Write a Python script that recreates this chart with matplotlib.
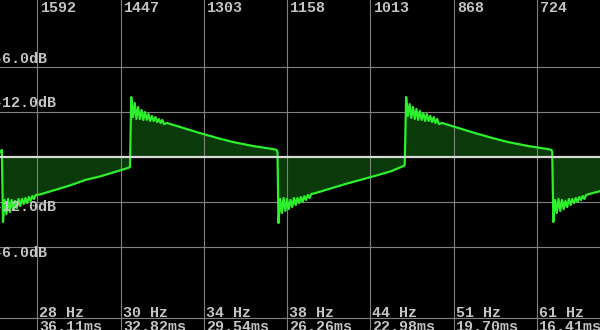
import numpy as np
import matplotlib
matplotlib.use("Agg")
import matplotlib.pyplot as plt

# ---- axis annotations ----
# x axis: lag in samples (44.1 kHz), drawn decreasing to the right
tick_lags = [1592, 1447, 1303, 1158, 1013, 868, 724]
tick_hz = ["28 Hz", "30 Hz", "34 Hz", "38 Hz", "44 Hz", "51 Hz", "61 Hz"]
tick_ms = ["36.11ms", "32.82ms", "29.54ms", "26.26ms", "22.98ms", "19.70ms", "16.41ms"]
# y axis: linear amplitude (1.0 = 0 dB)
db_levels = [0.5, 0.25, -0.25, -0.5]
db_labels = ["-6.0dB", "-12.0dB", "-12.0dB", "-6.0dB"]
frame_level = -0.894

# ---- waveform ----
lead_lag = [1657, 1654]
lead_amp = [0.028, 0.039]

ring_step = 3
ring1_start = 1652
ring1_amp = [-0.361, -0.239, -0.317, -0.233, -0.306, -0.239, -0.294, -0.244, -0.283, -0.233,
             -0.272, -0.233, -0.261, -0.228, -0.256, -0.222, -0.244, -0.217, -0.233, -0.211]
ramp1_lag = [1587.6, 1561.6, 1535.5, 1509.4, 1483.3, 1457.2, 1434.6, 1431.2]
ramp1_amp = [-0.208, -0.183, -0.158, -0.128, -0.108, -0.083, -0.061, -0.056]

ring2_start = 1429
ring2_amp = [0.333, 0.222, 0.300, 0.211, 0.278, 0.211, 0.261, 0.206, 0.250, 0.206,
             0.239, 0.200, 0.228, 0.200, 0.222, 0.194, 0.211, 0.189, 0.206, 0.183]
ramp2_lag = [1366.8, 1344.2, 1309.6, 1279.9, 1252.0, 1217.3, 1182.5, 1176.4, 1174.7]
ramp2_amp = [0.189, 0.167, 0.133, 0.106, 0.083, 0.061, 0.044, 0.039, 0.028]

ring3_start = 1173
ring3_amp = [-0.367, -0.233, -0.311, -0.228, -0.300, -0.233, -0.289, -0.239, -0.278, -0.228,
             -0.267, -0.228, -0.256, -0.222, -0.250, -0.217, -0.239, -0.211, -0.228, -0.206]
ramp3_lag = [1108.4, 1082.4, 1056.3, 1030.2, 1004.1, 978.0, 955.4, 953.5]
ramp3_amp = [-0.200, -0.175, -0.150, -0.127, -0.104, -0.080, -0.050, -0.045]

ring4_start = 951
ring4_amp = [0.333, 0.228, 0.294, 0.217, 0.278, 0.211, 0.267, 0.206, 0.256, 0.206,
             0.244, 0.200, 0.239, 0.200, 0.228, 0.194, 0.222, 0.189, 0.211, 0.183]
ramp4_lag = [888.5, 865.9, 831.3, 801.6, 773.7, 739.0, 704.2, 698.1, 697.0]
ramp4_amp = [0.189, 0.167, 0.133, 0.106, 0.083, 0.061, 0.044, 0.039, 0.028]

ring5_start = 695
ring5_amp = [-0.361, -0.239, -0.311, -0.233, -0.300, -0.239, -0.289, -0.244, -0.278, -0.233,
             -0.267, -0.233, -0.256, -0.228, -0.250, -0.222, -0.239, -0.217, -0.233, -0.211]
ramp5_lag = [626, 614]
ramp5_amp = [-0.200, -0.190]


def ring_lags(start, amps):
    return list(start - ring_step * np.arange(len(amps)))


lag = np.array(lead_lag
               + ring_lags(ring1_start, ring1_amp) + ramp1_lag
               + ring_lags(ring2_start, ring2_amp) + ramp2_lag
               + ring_lags(ring3_start, ring3_amp) + ramp3_lag
               + ring_lags(ring4_start, ring4_amp) + ramp4_lag
               + ring_lags(ring5_start, ring5_amp) + ramp5_lag, dtype=float)
amp = np.array(lead_amp + ring1_amp + ramp1_amp + ring2_amp + ramp2_amp
               + ring3_amp + ramp3_amp + ring4_amp + ramp4_amp
               + ring5_amp + ramp5_amp, dtype=float)

# ---- drawing ----
fig = plt.figure(figsize=(6, 3.3), dpi=100, facecolor="black")
ax = fig.add_axes([0, 0, 1, 1])
ax.set_facecolor("black")
ax.set_xlim(1657.2, 613.9)
ax.set_ylim(-0.9611, 0.8722)
ax.axis("off")

fill_col = "#0a3a0a"
line_col = "#2cf02c"
grid_col = "#808080"
text_col = "#c4c4c4"

ax.fill_between(lag, amp, 0, color=fill_col, lw=0, zorder=1)

for x in tick_lags:
    ax.axvline(x, color=grid_col, lw=0.8, zorder=2)
for y in db_levels + [frame_level]:
    ax.axhline(y, color=grid_col, lw=0.8, zorder=2)

ax.plot(lag, amp, color=line_col, lw=1.6, zorder=4, solid_joinstyle="round")
ax.axhline(0, color="#d4dcd4", lw=1.6, zorder=5)

font = dict(family=["Liberation Mono", "DejaVu Sans Mono"], size=10.8,
            weight="bold", color=text_col)

for x, top, hz, ms in zip(tick_lags, tick_lags, tick_hz, tick_ms):
    ax.annotate(str(top), xy=(x, 1), xycoords=("data", "axes fraction"),
                xytext=(3, -12), textcoords="offset pixels",
                ha="left", va="baseline", zorder=6, **font)
    ax.annotate(hz, xy=(x, 0), xycoords=("data", "axes fraction"),
                xytext=(2, 13), textcoords="offset pixels",
                ha="left", va="baseline", zorder=6, **font)
    ax.annotate(ms, xy=(x, 0), xycoords=("data", "axes fraction"),
                xytext=(2, -1), textcoords="offset pixels",
                ha="left", va="baseline", zorder=6, **font)

offsets = [4, 5, -9, -10]
for y, lab, off in zip(db_levels, db_labels, offsets):
    ax.annotate(lab, xy=(0, y), xycoords=("axes fraction", "data"),
                xytext=(-6, off), textcoords="offset pixels",
                ha="left", va="baseline", zorder=6, **font)

fig.savefig("out.png", dpi=100, facecolor="black")
